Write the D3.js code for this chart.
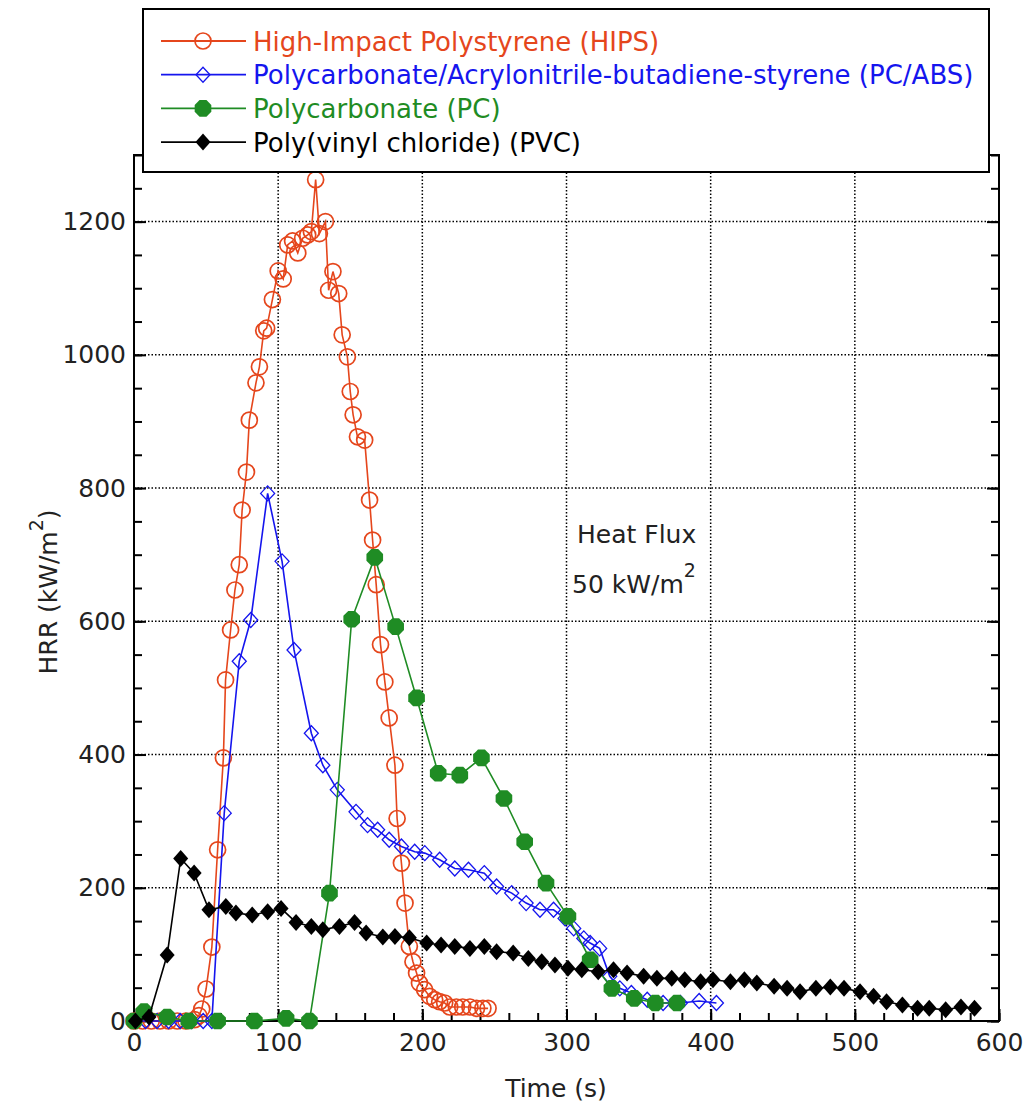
<!DOCTYPE html>
<html>
  <head>
    <script src="https://d3js.org/d3.v7.min.js"></script>
    <style>
      body { margin: 0; background: #fff; }
      text { font-family: "DejaVu Sans", sans-serif; }
    </style>
  </head>
  <body>
    <div id="chart"></div>
    <script>
      // time (s), HRR (kW/m2)
      const hips = [
        [0, 0], [6, 0], [12, 0], [18, 0], [24, 0], [30, 0], [36, 0], [42, 2], [45, 8], [47, 18],
        [50, 48], [54, 111], [58, 257], [62, 395], [63.5, 512], [67, 587], [70, 647], [73, 685],
        [75, 767], [78, 824], [80, 902], [84.6, 958], [87, 982], [90, 1036], [92, 1040], [96, 1083],
        [100, 1126], [103.5, 1114], [106.6, 1165], [110, 1171], [113.6, 1153], [117, 1175],
        [120.5, 1180], [123, 1185], [126, 1263], [128.6, 1182], [132.8, 1200], [135, 1097],
        [138, 1125], [142, 1092], [144.4, 1030], [148, 997], [150, 945], [152, 910], [155, 877],
        [160, 872], [163.4, 782], [165.5, 722], [168, 655], [171, 565], [174, 509], [177, 455],
        [181, 384], [182.5, 304], [185.5, 237], [188, 177], [191, 112], [193.5, 89], [196, 72],
        [198, 57], [201.6, 47], [205, 37], [208.6, 32], [212, 29], [215.5, 27], [219, 21],
        [223.6, 21], [228, 21], [233, 21], [237.6, 19], [242, 19], [245.6, 19]
      ];
      const pcabs = [
        [0, 0], [8, 0], [16, 0], [24, 0], [32, 0], [40, 0], [48, 0], [54, 0], [62.6, 312],
        [73, 540], [81, 602], [92.7, 792], [102.7, 690], [111, 557], [123, 432], [131, 384],
        [141, 347], [154, 314], [162, 294], [169, 287], [177, 272], [185.5, 262], [194.7, 254],
        [201.7, 252], [212, 242], [222.5, 229], [232, 227], [243, 222], [251.5, 202], [262, 192],
        [272, 177], [281.6, 167], [291, 167], [299, 154], [305, 139], [312, 124], [316.4, 117],
        [323, 109], [330, 67], [337, 49], [345, 42], [356, 32], [367, 27], [379, 27], [392, 30],
        [404, 27]
      ];
      const pc = [
        [0, 0], [7, 14], [23, 6], [38, 0], [58, 0], [83.5, 0], [105.5, 4], [121.7, 0],
        [135.6, 192], [151, 603], [167, 696], [181.5, 592], [196, 485], [211, 372], [226, 369],
        [241, 395], [256.6, 334], [271, 269], [285.8, 207], [301, 157], [316.4, 92], [331.5, 49],
        [347, 34], [361.6, 27], [376.6, 27]
      ];
      const pvc = [
        [1, 0], [10.4, 6], [23, 99], [32.4, 244], [41.7, 222], [52, 167], [63.7, 172], [70.7, 162],
        [82, 159], [92.7, 164], [102, 169], [112.4, 148], [123, 142], [131, 137], [142.5, 142],
        [153, 148], [161, 132], [172.6, 126], [181, 127], [191, 125], [203, 117], [213, 114],
        [222.5, 112], [233, 109], [243, 112], [251.5, 104], [263, 102], [273.5, 94], [282.8, 89],
        [292, 84], [301, 79], [310.6, 77], [322, 74], [332.6, 77], [342, 72], [353.5, 67],
        [362.7, 64], [373, 64], [382, 62], [393, 59], [401.6, 62], [413.7, 59], [423.4, 62],
        [432, 57], [444, 52], [453, 49], [462, 44], [473, 49], [483, 51], [492.5, 49], [503.6, 44],
        [513, 37], [522, 29], [533, 24], [543.5, 19], [551.6, 19], [563, 17], [573.6, 21], [583, 19]
      ];

      const seriesNames = [
        "High-Impact Polystyrene (HIPS)",
        "Polycarbonate/Acrylonitrile-butadiene-styrene (PC/ABS)",
        "Polycarbonate (PC)",
        "Poly(vinyl chloride) (PVC)"
      ];
      const seriesColors = ["#e5461c", "#1515ee", "#1f8c24", "#000000"];
      const seriesData = [hips, pcabs, pc, pvc];
      const seriesMarkers = ["circle", "diamondOpen", "octagon", "diamond"];

      const xTicks = [0, 100, 200, 300, 400, 500, 600];
      const yTicks = [0, 200, 400, 600, 800, 1000, 1200];

      const width = 1034;
      const height = 1105;
      const plotL = 134, plotR = 999, plotT = 155, plotB = 1021;

      const svg = d3
        .select("#chart")
        .append("svg")
        .attr("width", width)
        .attr("height", height);

      const x = d3.scaleLinear().domain([0, 600]).range([plotL, plotR]);
      const y = d3.scaleLinear().domain([0, 1300]).range([plotB, plotT]);

      // dotted grid
      const grid = svg.append("g").attr("stroke", "#000").attr("stroke-width", 1.5)
        .attr("stroke-dasharray", "1.5,2");
      grid.selectAll(".gx").data(xTicks.slice(1, -1)).enter().append("line")
        .attr("x1", (d) => x(d)).attr("x2", (d) => x(d))
        .attr("y1", plotB).attr("y2", plotT);
      grid.selectAll(".gy").data(yTicks.slice(1)).enter().append("line")
        .attr("x1", plotL).attr("x2", plotR)
        .attr("y1", (d) => y(d)).attr("y2", (d) => y(d));

      // axes with inward ticks
      function styleAxis(g) {
        g.select(".domain").remove();
        g.selectAll("line").attr("stroke", "#000").attr("stroke-width", 2);
        g.selectAll("text").attr("font-size", 25).attr("fill", "#222");
      }
      const minorX = d3.range(0, 601, 20);
      const minorY = d3.range(0, 1301, 50);

      svg.append("g").attr("transform", `translate(0,${plotB})`)
        .call(d3.axisBottom(x).tickValues(minorX).tickSize(-8).tickFormat(""))
        .call(styleAxis);
      svg.append("g").attr("transform", `translate(0,${plotB})`)
        .call(d3.axisBottom(x).tickValues(xTicks).tickSize(-12).tickPadding(12).tickFormat(d3.format("d")))
        .call(styleAxis);
      svg.append("g").attr("transform", `translate(${plotL},0)`)
        .call(d3.axisLeft(y).tickValues(minorY).tickSize(-8).tickFormat(""))
        .call(styleAxis);
      svg.append("g").attr("transform", `translate(${plotL},0)`)
        .call(d3.axisLeft(y).tickValues(yTicks).tickSize(-12).tickPadding(8).tickFormat(d3.format("d")))
        .call(styleAxis);
      svg.append("g").attr("transform", `translate(${plotR},0)`)
        .call(d3.axisRight(y).tickValues(minorY).tickSize(-8).tickFormat(""))
        .call(styleAxis);
      svg.append("g").attr("transform", `translate(${plotR},0)`)
        .call(d3.axisRight(y).tickValues(yTicks).tickSize(-12).tickFormat(""))
        .call(styleAxis);

      svg.append("rect")
        .attr("x", plotL).attr("y", plotT)
        .attr("width", plotR - plotL).attr("height", plotB - plotT)
        .attr("fill", "none").attr("stroke", "#000").attr("stroke-width", 2);

      function marker(g, type, color) {
        if (type === "circle") {
          g.append("circle").attr("r", 8).attr("fill", "none")
            .attr("stroke", color).attr("stroke-width", 1.7);
        } else if (type === "diamondOpen") {
          g.append("path").attr("d", "M0,-7.5L7,0L0,7.5L-7,0Z").attr("fill", "none")
            .attr("stroke", color).attr("stroke-width", 1.3);
        } else if (type === "octagon") {
          g.append("path").attr("d", d3.line()(d3.range(8).map((i) => {
            const a = Math.PI / 8 + (i * Math.PI) / 4;
            return [9 * Math.cos(a), 9 * Math.sin(a)];
          })) + "Z").attr("fill", color);
        } else {
          g.append("path").attr("d", "M0,-8.5L7.5,0L0,8.5L-7.5,0Z").attr("fill", color);
        }
      }

      const line = d3.line().x((d) => x(d[0])).y((d) => y(d[1]));

      seriesData.forEach((data, i) => {
        const g = svg.append("g");
        g.append("path").datum(data).attr("d", line).attr("fill", "none")
          .attr("stroke", seriesColors[i]).attr("stroke-width", 1.6);
        g.selectAll("g.m").data(data).enter().append("g")
          .attr("transform", (d) => `translate(${x(d[0])},${y(d[1])})`)
          .each(function () { marker(d3.select(this), seriesMarkers[i], seriesColors[i]); });
      });

      // legend
      const lg = svg.append("g");
      lg.append("rect").attr("x", 143).attr("y", 9).attr("width", 846).attr("height", 163)
        .attr("fill", "#fff").attr("stroke", "#000").attr("stroke-width", 2);
      seriesNames.forEach((name, i) => {
        const ly = 41 + i * 33.7;
        lg.append("line").attr("x1", 161).attr("x2", 246).attr("y1", ly).attr("y2", ly)
          .attr("stroke", seriesColors[i]).attr("stroke-width", 1.8);
        const mg = lg.append("g").attr("transform", `translate(203,${ly})`);
        marker(mg, seriesMarkers[i], seriesColors[i]);
        lg.append("text").attr("x", 253).attr("y", ly + 9.5).attr("font-size", 26)
          .attr("fill", seriesColors[i]).text(name);
      });

      // annotation
      svg.append("text").attr("x", 577).attr("y", 543).attr("font-size", 25).attr("fill", "#222")
        .text("Heat Flux");
      const t2 = svg.append("text").attr("x", 572).attr("y", 593).attr("font-size", 25).attr("fill", "#222");
      t2.append("tspan").text("50 kW/m");
      t2.append("tspan").attr("font-size", 19).attr("dy", -16).text("2");

      // axis titles
      svg.append("text").attr("x", 556).attr("y", 1097).attr("text-anchor", "middle")
        .attr("font-size", 25).attr("fill", "#222").text("Time (s)");
      const yt = svg.append("text").attr("transform", "translate(57,592) rotate(-90)")
        .attr("text-anchor", "middle").attr("font-size", 25).attr("fill", "#222");
      yt.append("tspan").text("HRR (kW/m");
      yt.append("tspan").attr("font-size", 19).attr("dy", -14).text("2");
      yt.append("tspan").attr("dy", 14).text(")");
    </script>
  </body>
</html>
